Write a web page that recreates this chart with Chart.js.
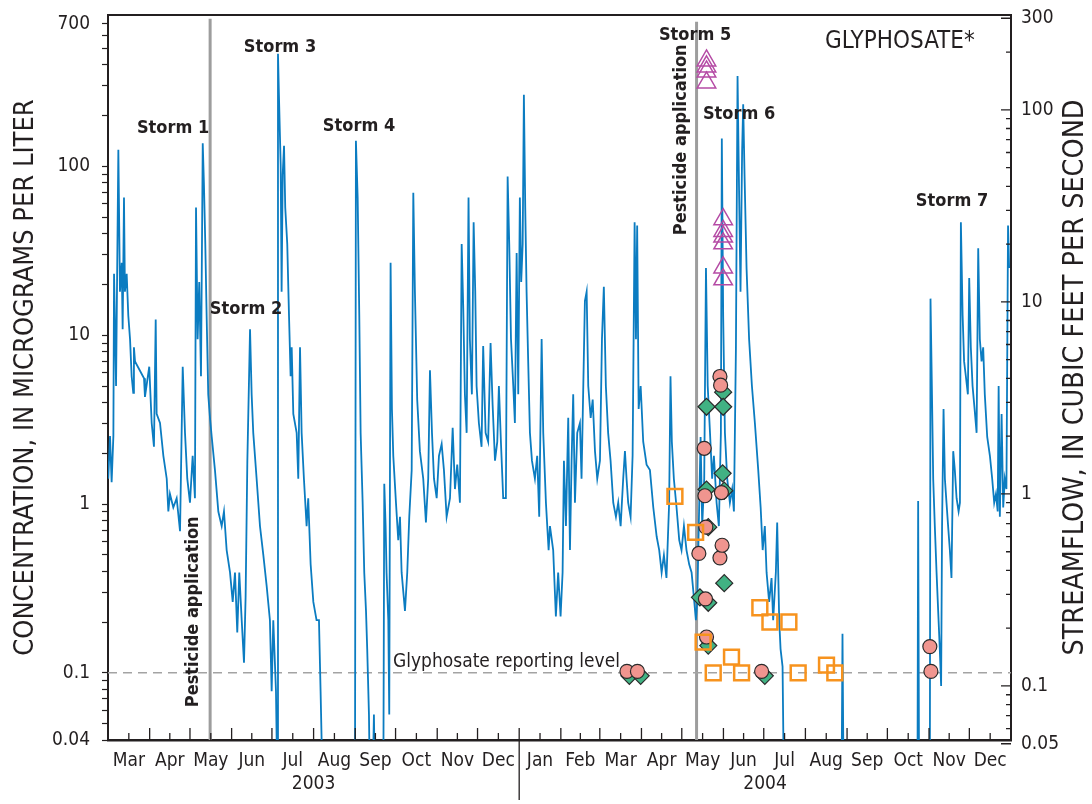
<!DOCTYPE html>
<html>
<head>
<meta charset="utf-8">
<script src="https://cdn.jsdelivr.net/npm/chart.js@4.4.1/dist/chart.umd.min.js"></script>
<style>
  html, body { margin: 0; background: #fff; }
  #wrap { width: 1092px; height: 804px; }
</style>
</head>
<body>
<div id="wrap"><canvas id="glyphosateChart" width="1092" height="804"></canvas></div>
<script>
const FONT = "'Liberation Sans Narrow', 'DejaVu Sans Condensed', 'Arial Narrow', sans-serif";
const INK = '#231f20';

// x values are days counted from 1 March 2003 (left edge of the plot)
const monthNames = ['Jan', 'Feb', 'Mar', 'Apr', 'May', 'Jun', 'Jul', 'Aug', 'Sep', 'Oct', 'Nov', 'Dec'];
const yearLabels = ['2003', '2004'];
const concTickLabels = [0.04, 0.1, 1, 10, 100, 700];
const flowTickLabels = [0.05, 0.1, 1, 10, 100, 300];
const pesticideDates = [[2003, 5, 16], [2004, 5, 12]];
const reportingLevel = 0.1;

// streamflow, cubic feet per second  [day, cfs]
const flow2003 = [
  [0.2, 1.2], [1.5, 2.0], [2.7, 1.15], [4, 2.0], [4.5, 14], [6, 3.65], [7.7, 62], [8.9, 11.3],
  [10.2, 16], [10.9, 7.2], [11.9, 35], [12.6, 11.3], [13.9, 14], [15.1, 8.5], [16.4, 6.4], [17.6, 4.1],
  [18.8, 3.36], [19.3, 5.8], [20.1, 4.9], [26.8, 4.0], [27.5, 3.2], [30.7, 4.6], [32.5, 2.34], [34.2, 1.76],
  [35.5, 8.1], [36.2, 2.61], [38.7, 2.34], [41.2, 1.58], [43.7, 1.2], [44.9, 0.81], [46.1, 1.0], [48.6, 0.85],
  [51.1, 0.95], [53.6, 0.64], [55.6, 4.6], [57.3, 2.08], [59, 1.2], [61, 0.9], [63, 1.58], [64.7, 0.95],
  [65.5, 31], [66.7, 6.4], [67.9, 12.7], [69.2, 4.1], [70.5, 67], [71.4, 41], [72.4, 20], [73.4, 8.5],
  [74.6, 3.3], [75.9, 2.49], [77.2, 1.98], [79.6, 1.33], [82.1, 0.81], [84.6, 0.68], [86.3, 0.81], [88.3, 0.51],
  [90.8, 0.39], [92.8, 0.274], [94.5, 0.39], [96.2, 0.19], [97.7, 0.39], [99.5, 0.22], [101.2, 0.132], [102.4, 0.29],
  [103.7, 1.49], [105.7, 7.2], [106.9, 3.3], [108.1, 2.08], [110.6, 1.2], [113.1, 0.68], [115.6, 0.48], [118.1, 0.33],
  [120.5, 0.22], [121.8, 0.094], [123, 0.22], [125, 0.094], [126, 0.03], [126.5, 196], [127.2, 120], [128.5, 52],
  [129.2, 11.3], [130, 46], [131, 65], [131.9, 31], [133.4, 20], [134.7, 8.5], [135.9, 4.1], [136.7, 5.8],
  [137.9, 2.61], [140.4, 2.08], [141.6, 1.2], [142.9, 5.8], [144.1, 2.08], [145.8, 1.2], [147.8, 0.68], [149, 0.95],
  [150.8, 0.43], [152.8, 0.274], [155.2, 0.22], [157, 0.22], [158.2, 0.094], [159.7, 0.03],
  [183.8, 0.03], [184.5, 69], [185.8, 35], [187, 8.5], [188, 2.08], [189.5, 0.9], [190.7, 0.39], [192, 0.246],
  [192.9, 0.156], [194.2, 0.071], [194.9, 0.03], [196.9, 0.03], [197.9, 0.071], [198.7, 0.03], [204.9, 0.03], [205.6, 1.13],
  [206.6, 0.68], [207.3, 0.39], [208.6, 0.22], [209.3, 0.071], [210.3, 16], [211.3, 2.77], [212.3, 1.58], [214.3, 0.9],
  [216, 0.575], [217.3, 0.76], [218.5, 0.39], [221, 0.246], [222.7, 0.39], [224.2, 0.76], [226, 1.33], [227.2, 37],
  [228.4, 11.3], [230.1, 3.1], [232.1, 1.67], [234.6, 1.2], [236.6, 0.71], [238.3, 1.2], [239.6, 4.4], [241.1, 2.08],
  [242.6, 1.2], [244.6, 0.95], [246.3, 1.58], [248.3, 1.82], [250, 1.33], [252, 0.76], [254.5, 0.95], [256.5, 2.21],
  [258.2, 1.06], [259.9, 1.42], [261.9, 0.9], [263.2, 20], [264.4, 9.1], [265.6, 3.3], [266.9, 2.08], [268.3, 35],
  [269.3, 6.4], [270.8, 3.3], [272.1, 26], [273.3, 11.3], [274.3, 3.65], [276, 2.34], [278, 1.76], [279.2, 5.9],
  [281, 2.08], [282.9, 1.87], [284.7, 6.1], [286.2, 2.94], [288, 1.49], [289.7, 1.87], [290.9, 3.65], [292.4, 1.87],
  [294.1, 0.95], [296.1, 0.95], [297.4, 45], [298.6, 20], [299.9, 6.4], [301.6, 3.65], [302.8, 2.34], [304.1, 18],
  [305.3, 3.3]
];
const flow2004 = [
  [306.5, 35], [307.5, 12.7], [308.6, 20], [309.5, 120], [310.5, 31], [311.5, 11.3], [312.7, 4.9], [314, 2.08],
  [315.5, 1.49], [317.7, 1.2], [319.4, 1.58], [320.9, 0.76], [322.7, 6.4], [323.9, 2.08], [325.9, 0.9], [327.9, 0.51],
  [328.9, 0.68], [331.3, 0.51], [333.3, 0.23], [335, 0.39], [336.8, 0.23], [338.3, 0.39], [339.3, 1.49], [340.8, 0.68],
  [342.5, 2.49], [343.8, 0.51], [345, 1.49], [346.2, 3.3], [347.5, 0.9], [349.2, 2.08], [351.2, 2.34], [352.4, 1.2],
  [354.9, 10.1], [356.2, 11.3], [357.4, 3.65], [359.2, 2.49], [360.7, 3.1], [362.4, 1.67], [364.1, 1.2], [366.1, 1.49],
  [367.6, 6.4], [369, 12], [370.5, 3.65], [372.2, 2.08], [374, 1.49], [376, 0.9], [378, 0.76], [379.7, 0.9],
  [381.5, 0.68], [383.4, 1.2], [384.7, 1.67], [385.9, 1.2], [387.1, 0.9], [388.9, 0.76], [390.4, 1.58], [391.9, 26],
  [392.9, 6.4], [393.8, 25], [394.9, 2.77], [396.4, 3.65], [398.3, 1.87], [400.8, 1.42], [403.3, 1.33], [405.8, 0.85],
  [408.3, 0.6], [410.2, 0.51], [412, 0.39], [413.7, 0.48], [415.6, 0.365], [417.6, 0.9], [418.6, 4.1], [419.6, 1.87],
  [421.1, 1.2], [423.1, 0.85], [425.1, 0.575], [426.8, 0.51], [428.6, 0.68], [430.5, 0.51], [432.5, 0.43], [434.3, 0.39],
  [436, 0.29], [437.5, 0.22], [438.5, 0.274], [440, 0.9], [441, 1.98], [442.2, 0.68], [443.7, 1.2], [445, 15],
  [446.3, 3.65], [448, 2.08], [449.6, 1.2], [450.9, 1.58], [452.9, 0.9], [454.6, 0.68], [456.1, 2.08], [456.8, 71],
  [457.8, 8.5], [459.1, 2.08], [460.8, 1.2], [462.8, 0.9], [464.5, 1.06], [465.8, 0.81], [467.3, 5.8], [468.5, 150],
  [469.7, 35], [470.7, 11.3], [471.9, 61], [472.7, 107], [473.7, 46], [475.2, 15], [477.1, 6.4], [479.2, 3.65],
  [481.4, 2.34], [483.9, 1.33], [485.7, 0.85], [487.2, 0.51], [488.8, 0.68], [490.1, 0.39], [492, 0.274], [493.8, 0.365],
  [495, 0.22], [497, 0.39], [498, 0.71], [499.5, 0.22], [500.5, 0.156], [502, 0.126], [503, 0.03], [545.9, 0.03],
  [546.6, 0.187], [547.4, 0.03], [602.4, 0.03], [602.9, 0.92], [603.6, 0.03], [611.6, 0.03], [612.1, 10.4], [613.1, 3.65],
  [614.1, 1.2], [615.3, 0.68], [616.6, 0.39], [617.8, 0.246], [619, 0.156], [620, 0.1], [620.7, 0.68], [621.8, 2.77],
  [622.8, 1.2], [624, 0.9], [625.2, 0.68], [626.5, 0.51], [627.7, 0.365], [629, 1.67], [630.2, 1.33], [631.5, 0.95],
  [633, 0.81], [634, 0.9], [634.7, 26], [636, 8.5], [637.1, 4.9], [638.4, 4.1], [639.9, 3.3], [640.9, 13.3],
  [642.1, 5.8], [643.4, 3.65], [644.9, 2.77], [646.4, 2.08], [647.6, 19], [648.8, 6.4], [650.1, 4.9], [651.3, 5.8],
  [652.5, 3.3], [654.3, 1.98], [656.3, 1.58], [658, 1.2], [659.5, 0.9], [660.8, 1.0], [662.1, 0.81], [662.8, 3.65],
  [663.7, 0.76], [665, 2.61], [666.2, 0.85], [667.4, 1.2], [668.6, 1.06], [669.8, 25], [670.6, 15]
];

// glyphosate samples, micrograms per liter  [day, concentration]
const circleSamples = [
  [386.2, 0.102], [394, 0.102], [439.7, 0.51], [443.7, 2.14], [444.2, 1.12], [444.6, 0.274], [444.9, 0.73],
  [445.4, 0.163], [455.4, 5.7], [455.4, 0.48], [455.9, 5.06], [456.5, 1.17], [457, 0.57], [486.4, 0.102],
  [611.6, 0.143], [612.4, 0.102]
];
const diamondSamples = [
  [388, 0.096], [396.4, 0.096], [440.5, 0.28], [445.4, 3.77], [445.4, 1.22], [446.7, 0.73], [446.7, 0.26],
  [446.7, 0.145], [457.4, 1.52], [457.8, 4.6], [457.8, 3.77], [458.6, 1.2], [458.6, 0.34], [488.8, 0.096]
];
const squareSamples = [
  [421.9, 1.11], [437.3, 0.68], [442.9, 0.152], [450.4, 0.1], [464, 0.124], [471.5, 0.1], [485.1, 0.243],
  [492.6, 0.2], [506.7, 0.2], [513.6, 0.1], [534.7, 0.111], [540.9, 0.1]
];
const triangleSamples = [
  [445.4, 424], [445.4, 391], [445.4, 365], [445.4, 314],
  [457.8, 48.6], [457.8, 41.4], [457.8, 38.4], [457.8, 35], [457.8, 25.2], [457.8, 21.4]
];

const T0 = Date.UTC(2003, 2, 1);
const dayOf = (y, m, d) => (Date.UTC(y, m - 1, d) - T0) / 864e5;
const X_MIN = 0;
const X_MAX = dayOf(2005, 1, 1);

// month tick marks at the 1st, month names centred in each month
const monthStarts = [];
const monthMids = [];
const xLabelText = {};
for (let yr = 2003; yr <= 2004; yr++) {
  for (let m = 1; m <= 12; m++) {
    const s = dayOf(yr, m, 1), e = dayOf(yr, m + 1, 1);
    if (e <= X_MIN) continue;
    if (s > X_MIN) monthStarts.push(s);
    const mid = (s + e) / 2;
    monthMids.push(mid);
    xLabelText[mid] = monthNames[m - 1];
  }
}
// year names sit on a second label line, centred on the part of each year shown
const yearMids = [];
yearLabels.forEach(lbl => {
  const yr = +lbl;
  const s = Math.max(dayOf(yr, 1, 1), X_MIN), e = Math.min(dayOf(yr + 1, 1, 1), X_MAX);
  const mid = (s + e) / 2;
  yearMids.push(mid);
  xLabelText[mid] = ['', lbl];
});
const xTicks = [...new Set(monthStarts.concat(monthMids, yearMids))].sort((a, b) => a - b);

function logTicks(lo, hi) {
  const out = [];
  for (let e = -2; e <= 3; e++) {
    for (let k = 1; k <= 9; k++) {
      const v = +(k * Math.pow(10, e)).toPrecision(2);
      if (v >= lo && v <= hi) out.push(v);
    }
  }
  return out;
}
const concTicks = logTicks(concTickLabels[0], concTickLabels[concTickLabels.length - 1]);
const flowTicks = logTicks(flowTickLabels[0], flowTickLabels[flowTickLabels.length - 1]);

const toXY = arr => arr.map(p => ({ x: p[0], y: p[1] }));

// text placed in data units (day, concentration on left axis)
const notes = [
  { text: 'Storm 1', day: 48.4, conc: 159 },
  { text: 'Storm 2', day: 102.7, conc: 13.3 },
  { text: 'Storm 3', day: 128, conc: 479 },
  { text: 'Storm 4', day: 186.8, conc: 163 },
  { text: 'Storm 5', day: 436.9, conc: 563 },
  { text: 'Storm 6', day: 469.6, conc: 192 },
  { text: 'Storm 7', day: 628.1, conc: 58 }
];
const pesticideNotes = [
  { day: 63.3, conc: 0.23 },
  { day: 426.4, conc: 144 }
];

const decorations = {
  id: 'decorations',
  afterDraw(chart) {
    const { ctx, chartArea: a, scales } = chart;
    const { x, y, y2 } = scales;
    ctx.save();
    ctx.strokeStyle = INK;
    ctx.lineWidth = 1.3;
    ctx.beginPath();
    monthStarts.forEach(d => {
      const px = x.getPixelForValue(d);
      ctx.moveTo(px, a.bottom);
      ctx.lineTo(px, a.bottom - 12);
    });
    monthMids.forEach(d => {
      const px = x.getPixelForValue(d);
      ctx.moveTo(px, a.bottom);
      ctx.lineTo(px, a.bottom - 7);
    });
    const jan = x.getPixelForValue(dayOf(2004, 1, 1));
    ctx.moveTo(jan, a.bottom);
    ctx.lineTo(jan, a.bottom + 60);
    y2.ticks.forEach(t => {
      const py = y2.getPixelForValue(t.value);
      const len = flowTickLabels.includes(t.value) ? 10 : 5;
      ctx.moveTo(a.right, py);
      ctx.lineTo(a.right - len, py);
    });
    ctx.stroke();

    ctx.fillStyle = INK;
    ctx.textAlign = 'center';
    ctx.textBaseline = 'alphabetic';
    ctx.font = `bold 18px ${FONT}`;
    notes.forEach(n => ctx.fillText(n.text, x.getPixelForValue(n.day), y.getPixelForValue(n.conc)));

    pesticideNotes.forEach(n => {
      ctx.save();
      ctx.translate(x.getPixelForValue(n.day), y.getPixelForValue(n.conc));
      ctx.rotate(-Math.PI / 2);
      ctx.textBaseline = 'middle';
      ctx.font = `bold 18px ${FONT}`;
      ctx.fillText('Pesticide application', 0, 0);
      ctx.restore();
    });

    ctx.textAlign = 'left';
    ctx.font = `24px ${FONT}`;
    ctx.fillText('GLYPHOSATE*', x.getPixelForValue(533.6), y.getPixelForValue(506));
    ctx.font = `19px ${FONT}`;
    ctx.fillText('Glyphosate reporting level', x.getPixelForValue(212.1), y.getPixelForValue(0.1086));

    ctx.save();
    ctx.translate(chart.width - 16, (a.top + a.bottom) / 2);
    ctx.rotate(-Math.PI / 2);
    ctx.textAlign = 'center';
    ctx.textBaseline = 'middle';
    ctx.font = `28.5px ${FONT}`;
    ctx.fillText('STREAMFLOW, IN CUBIC FEET PER SECOND', 0, 0);
    ctx.restore();
    ctx.restore();
  }
};

Chart.defaults.font.family = FONT;
Chart.defaults.color = INK;

const ctx = document.getElementById('glyphosateChart').getContext('2d');
const glyphosateChart = new Chart(ctx, {
  type: 'scatter',
  data: {
    datasets: [
      {
        label: 'Pesticide application',
        data: [
          { x: dayOf(...pesticideDates[0]), y: 0.04 }, { x: dayOf(...pesticideDates[0]), y: 750 }
        ],
        showLine: true, borderColor: '#9d9d9d', borderWidth: 3, pointRadius: 0, yAxisID: 'y', order: 9
      },
      {
        label: 'Pesticide application 2004',
        data: [
          { x: dayOf(...pesticideDates[1]), y: 0.04 }, { x: dayOf(...pesticideDates[1]), y: 720 }
        ],
        showLine: true, borderColor: '#9d9d9d', borderWidth: 3, pointRadius: 0, yAxisID: 'y', order: 9
      },
      {
        label: 'Glyphosate reporting level',
        data: [{ x: X_MIN, y: reportingLevel }, { x: X_MAX, y: reportingLevel }],
        showLine: true, borderColor: '#a3a3a3', borderWidth: 1.5, borderDash: [9, 6],
        pointRadius: 0, yAxisID: 'y', order: 8
      },
      {
        label: 'Streamflow',
        data: toXY(flow2003.concat(flow2004)),
        showLine: true, borderColor: '#0b7cc1', borderWidth: 1.8, pointRadius: 0,
        tension: 0, yAxisID: 'y2', order: 7
      },
      {
        label: 'Diamond samples',
        data: toXY(diamondSamples),
        pointStyle: 'rectRot', pointRadius: 8.5, backgroundColor: '#41b283',
        borderColor: '#2a2a2a', borderWidth: 1.2, yAxisID: 'y', order: 4
      },
      {
        label: 'Circle samples',
        data: toXY(circleSamples),
        pointStyle: 'circle', pointRadius: 7, backgroundColor: '#f0958f',
        borderColor: '#2a2a2a', borderWidth: 1.2, yAxisID: 'y', order: 3
      },
      {
        label: 'Square samples',
        data: toXY(squareSamples),
        pointStyle: 'rect', pointRadius: 10.5, backgroundColor: 'rgba(0,0,0,0)',
        borderColor: '#f7931e', borderWidth: 2.5, yAxisID: 'y', order: 2
      },
      {
        label: 'Triangle samples',
        data: toXY(triangleSamples),
        pointStyle: 'triangle', pointRadius: 10.7, backgroundColor: 'rgba(0,0,0,0)',
        borderColor: '#b54ba5', borderWidth: 1.5, yAxisID: 'y', order: 1
      }
    ]
  },
  options: {
    responsive: false,
    animation: false,
    devicePixelRatio: 1,
    layout: { autoPadding: false, padding: { top: 15, right: 0, bottom: 0, left: 0 } },
    plugins: { legend: { display: false }, tooltip: { enabled: false } },
    scales: {
      x: {
        type: 'linear', position: 'bottom', min: X_MIN, max: X_MAX,
        afterBuildTicks: s => { s.ticks = xTicks.map(v => ({ value: v })); },
        afterFit: s => { s.height = 64; },
        ticks: {
          autoSkip: false, maxRotation: 0, minRotation: 0, padding: 10,
          font: { size: 19 }, color: INK,
          callback: v => xLabelText[v] || ''
        },
        grid: { display: false, drawTicks: false },
        border: { display: true, color: INK, width: 2.5 }
      },
      xTop: {
        type: 'linear', position: 'top', min: X_MIN, max: X_MAX,
        afterFit: s => { s.height = 0; },
        ticks: { display: false },
        grid: { display: false, drawTicks: false },
        border: { display: true, color: INK, width: 2 }
      },
      y: {
        type: 'logarithmic', position: 'left', min: 0.04, max: 790,
        afterBuildTicks: s => { s.ticks = concTicks.map(v => ({ value: v })); },
        afterFit: s => { s.width = 108; },
        ticks: {
          autoSkip: false, padding: 12, font: { size: 19, lineHeight: 0.2 }, color: INK,
          callback: v => concTickLabels.includes(v) ? String(v) : ''
        },
        grid: { display: true, drawOnChartArea: false, drawTicks: true, tickLength: 6, tickColor: INK, tickWidth: 1.2 },
        border: { display: true, color: INK, width: 2 },
        title: {
          display: true, text: 'CONCENTRATION, IN MICROGRAMS PER LITER',
          font: { size: 27 }, color: INK, padding: { top: 10, bottom: 2 }
        }
      },
      y2: {
        type: 'logarithmic', position: 'right', min: 0.0523, max: 312,
        afterBuildTicks: s => { s.ticks = flowTicks.map(v => ({ value: v })); },
        afterFit: s => { s.width = 81; },
        ticks: {
          autoSkip: false, padding: 10, font: { size: 19, lineHeight: 0.2 }, color: INK,
          callback: v => flowTickLabels.includes(v) ? String(v) : ''
        },
        grid: { display: false, drawOnChartArea: false, drawTicks: false },
        border: { display: true, color: INK, width: 2 }
      }
    }
  },
  plugins: [decorations]
});
</script>
</body>
</html>
